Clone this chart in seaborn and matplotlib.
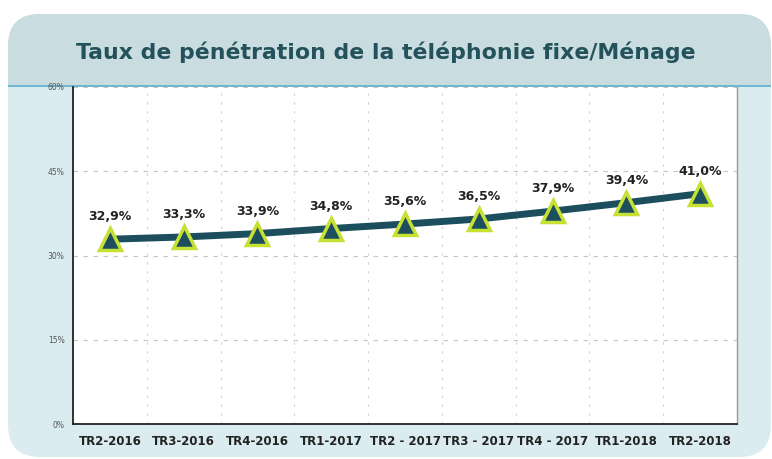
import matplotlib
matplotlib.use("Agg")
import matplotlib.pyplot as plt
import seaborn as sns
import pandas as pd
from matplotlib.patches import FancyBboxPatch

# data
periods = ["TR2-2016", "TR3-2016", "TR4-2016", "TR1-2017", "TR2 - 2017",
           "TR3 - 2017", "TR4 - 2017", "TR1-2018", "TR2-2018"]
rates = [32.9, 33.3, 33.9, 34.8, 35.6, 36.5, 37.9, 39.4, 41.0]
y_ticks = [0, 15, 30, 45, 60]

df = pd.DataFrame({"period": periods, "rate": rates})

sns.set_style("white")
plt.rcParams["font.family"] = ["DejaVu Sans"]

W, H = 772, 459
fig = plt.figure(figsize=(W / 100, H / 100), dpi=100)
fig.patch.set_facecolor("white")


# background boxes, given in pixels from the top-left corner
def box(x0, y0, x1, y1, color, z, r=0.0):
    p = FancyBboxPatch((x0 / W, 1 - y1 / H), (x1 - x0) / W, (y1 - y0) / H,
                       boxstyle=f"round,pad=0,rounding_size={r / W}",
                       transform=fig.transFigure, facecolor=color,
                       edgecolor="none", zorder=z, mutation_aspect=W / H)
    fig.patches.append(p)


box(8, 14, 771, 457, "#dbecf1", -5, r=32)
box(8, 14, 771, 85, "#c9dcdf", -4, r=32)
box(8, 50, 771, 85, "#c9dcdf", -3)
box(8, 85, 771, 87, "#6fb6d0", -2)

fig.text(0.5, 1 - 52 / H, "Taux de pénétration de la téléphonie fixe/Ménage",
         ha="center", va="center", fontsize=15.8, fontweight="bold",
         color="#24525c")

ax = fig.add_axes([73 / W, (H - 424) / H, 664 / W, 337 / H])
ax.set_zorder(5)
ax.set_facecolor("white")

sns.lineplot(data=df, x="period", y="rate", ax=ax, color="#1d4e5e",
             linewidth=5, marker="^", markersize=16,
             markerfacecolor="#1d4e5e", markeredgecolor="#c6e034",
             markeredgewidth=2.5, sort=False, zorder=3)

# value labels
for i, v in enumerate(rates):
    ax.text(i, v + 2.8, f"{v:.1f}%".replace(".", ","), ha="center",
            va="bottom", fontsize=9, fontweight="bold", color="#222222")

ax.set_xlim(-0.5, len(periods) - 0.5)
ax.set_ylim(0, 60)
ax.set_yticks(y_ticks)
ax.set_yticklabels([f"{t}%" for t in y_ticks], fontsize=5.5, color="#555555")
ax.set_xticks(range(len(periods)))
ax.set_xticklabels(periods, fontsize=8.5, fontweight="bold", color="#222222")
ax.set_xticks([i + 0.5 for i in range(-1, len(periods))], minor=True)
ax.tick_params(axis="x", which="major", length=0, pad=8)
ax.tick_params(axis="x", which="minor", length=3, width=1.2, color="#222222",
               direction="out")
ax.tick_params(axis="y", length=3, width=1, color="#222222", pad=3)
ax.set_xlabel("")
ax.set_ylabel("")

ax.grid(False)
ax.yaxis.grid(True, linestyle=(0, (4, 5)), color="#c4c4c4", linewidth=0.8)
ax.xaxis.grid(True, which="minor", linestyle=(0, (2, 6)), color="#cfcfcf",
              linewidth=0.8)
ax.set_axisbelow(True)

for s in ["left", "bottom"]:
    ax.spines[s].set_color("#222222")
    ax.spines[s].set_linewidth(1.3)
ax.spines["top"].set_visible(False)
ax.spines["right"].set_color("#999999")
ax.spines["right"].set_linewidth(1)

fig.savefig("out.png", dpi=100, facecolor=fig.get_facecolor())
